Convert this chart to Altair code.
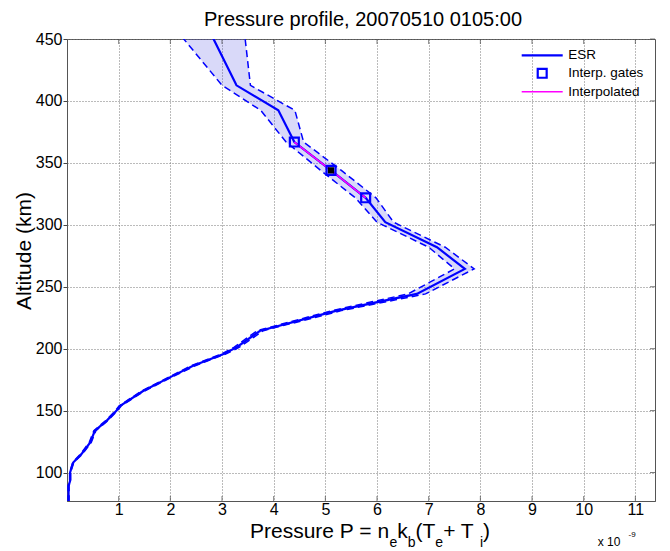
import altair as alt
import pandas as pd

# ---- data ----
altitude_km = [453.0, 412.6, 392.4, 366.8, 343.9, 321.8, 302.1, 281.9, 264.4, 244.2,
               230.7, 214.5, 201.0, 195.7, 186.2, 176.8, 166.0, 153.9, 150.0, 141.9,
               133.8, 124.3, 114.9, 108.1, 100.0, 93.3, 89.2, 76.0]
pressure_esr = [2.80, 3.28, 4.09, 4.40, 5.11, 5.78, 6.16, 7.16, 7.70, 6.77,
                5.22, 3.74, 3.28, 3.03, 2.44, 1.99, 1.48, 1.03, 0.96, 0.77,
                0.54, 0.45, 0.28, 0.12, 0.06, 0.06, 0.03, 0.03]
pressure_low = [2.20, 3.00, 3.75, 4.24, 4.91, 5.58, 6.00, 7.00, 7.50, 6.60,
                5.13, 3.68, 3.23, 2.99, 2.40, 1.96, 1.45, 1.01, 0.94, 0.75,
                0.52, 0.43, 0.26, 0.11, 0.05, 0.05, 0.02, 0.02]
pressure_high = [3.44, 3.55, 4.41, 4.58, 5.31, 5.98, 6.32, 7.32, 7.88, 6.94,
                 5.31, 3.80, 3.33, 3.07, 2.48, 2.02, 1.51, 1.05, 0.98, 0.79,
                 0.56, 0.47, 0.30, 0.13, 0.07, 0.07, 0.04, 0.04]
gate_alt = [366.8, 343.9, 321.8]
gate_p = [4.40, 5.11, 5.78]
current_gate_alt = [343.9]
current_gate_p = [5.11]
x_ticks = [1, 2, 3, 4, 5, 6, 7, 8, 9, 10, 11]
y_ticks = [100, 150, 200, 250, 300, 350, 400, 450]
legend_labels = ["ESR", "Interp. gates", "Interpolated"]
title_text = "Pressure profile, 20070510 0105:00"
ylabel_text = "Altitude (km)"

W, H = 588, 462
FONT = "Liberation Sans"
BLUE = "#0000ff"
MAGENTA = "#ff00ff"

prof = pd.DataFrame({"alt": altitude_km, "p": pressure_esr,
                     "lo": pressure_low, "hi": pressure_high})
gates = pd.DataFrame({"alt": gate_alt, "p": gate_p})
cur = pd.DataFrame({"alt": current_gate_alt, "p": current_gate_p})
one = pd.DataFrame({"a": [0]})

xscale = alt.Scale(domain=[0, 11.38], nice=False, zero=False)
yscale = alt.Scale(domain=[77, 450], nice=False, zero=False)
xaxis = alt.Axis(values=x_ticks, title=None, ticks=False, labelPadding=0,
                 labelFontSize=16, grid=True)
yaxis = alt.Axis(values=y_ticks, title=None, ticks=True, tickSize=4, labelPadding=1,
                 labelFontSize=16, grid=True)

def X(field):
    return alt.X(field, type="quantitative", scale=xscale, axis=xaxis)

def Y(field):
    return alt.Y(field, type="quantitative", scale=yscale, axis=yaxis)

band = alt.Chart(prof).mark_area(orient="horizontal", fill="#4040e0", fillOpacity=0.2,
                                 strokeWidth=0, clip=True).encode(
    y=Y("alt"), x=X("lo"), x2="hi")

dash_lo = alt.Chart(prof).mark_line(color=BLUE, strokeWidth=1.5, strokeDash=[7, 4],
                                    clip=True).encode(
    y=Y("alt"), x=X("lo"), order=alt.Order("alt:Q"))
dash_hi = alt.Chart(prof).mark_line(color=BLUE, strokeWidth=1.5, strokeDash=[7, 4],
                                    clip=True).encode(
    y=Y("alt"), x=X("hi"), order=alt.Order("alt:Q"))
esr = alt.Chart(prof).mark_line(color=BLUE, strokeWidth=2.2, clip=True).encode(
    y=Y("alt"), x=X("p"), order=alt.Order("alt:Q"))
interp = alt.Chart(gates).mark_line(color=MAGENTA, strokeWidth=1.6).encode(
    y=Y("alt"), x=X("p"), order=alt.Order("alt:Q"))
cur_pt = alt.Chart(cur).mark_point(shape="square", filled=True, color="black",
                                   size=40, opacity=1).encode(y=Y("alt"), x=X("p"))
gate_pts = alt.Chart(gates).mark_point(shape="square", filled=False, color=BLUE,
                                       strokeWidth=2.2, size=80, opacity=1).encode(
    y=Y("alt"), x=X("p"))

# inward tick marks (MATLAB style) on bottom, top and right
xt = pd.DataFrame({"p": x_ticks})
yt = pd.DataFrame({"alt": y_ticks})
tick_b = alt.Chart(xt).mark_tick(color="#444", thickness=1, size=5).encode(
    x=X("p"), y=alt.value(H - 2.5))
tick_t = alt.Chart(xt).mark_tick(color="#444", thickness=1, size=5).encode(
    x=X("p"), y=alt.value(2.5))
tick_r = alt.Chart(yt).mark_tick(color="#444", thickness=1, size=5).encode(
    y=Y("alt"), x=alt.value(W - 2.5))

def txt(s, x, y, size, align="left", baseline="alphabetic", angle=0):
    kw = dict(text=s, fontSize=size, font=FONT, color="black", align=align,
              baseline=baseline)
    if angle:
        kw["angle"] = angle
    return alt.Chart(one).mark_text(**kw).encode(x=alt.value(x), y=alt.value(y))

# legend (manual, no box)
lx0, lx1, ltx = 454.7, 495.7, 501.3
ly = [16.3, 34.3, 52.7]
leg = [
    alt.Chart(one).mark_rule(color=BLUE, strokeWidth=2.2).encode(
        x=alt.value(lx0), x2=alt.value(lx1), y=alt.value(ly[0])),
    alt.Chart(one).mark_point(shape="square", filled=False, color=BLUE,
                              strokeWidth=2.2, size=80, opacity=1).encode(
        x=alt.value((lx0 + lx1) / 2), y=alt.value(ly[1])),
    alt.Chart(one).mark_rule(color=MAGENTA, strokeWidth=1.6).encode(
        x=alt.value(lx0), x2=alt.value(lx1), y=alt.value(ly[2])),
]
for lab, yy in zip(legend_labels, ly):
    leg.append(txt(lab, ltx, yy, 13.5, baseline="middle"))

# titles
texts = [txt(title_text, 296, -13, 20, align="center"),
         txt(ylabel_text, -42, 212, 21, align="center", baseline="middle", angle=270)]

# x label with subscripts, laid out with Arial/Liberation advance widths
adv = {" ": 278, "P": 667, "r": 333, "e": 556, "s": 500, "u": 556, "=": 584,
       "n": 556, "k": 500, "b": 556, "(": 333, ")": 333, "T": 611, "+": 584, "i": 222}
pieces = [("Pressure P = n", False), ("e", True), ("k", False), ("b", True),
          ("(T", False), ("e", True), (" + T", False), ("i", True), (")", False)]
MAIN, SUB = 21, 14
def wid(s, fs):
    return sum(adv[c] for c in s) / 1000 * fs
total = sum(wid(s, SUB if sub else MAIN) for s, sub in pieces)
cx = 370 - 67
xpos = cx - total / 2
base = 499
for s, sub in pieces:
    fs = SUB if sub else MAIN
    texts.append(txt(s, xpos, base + (9 if sub else 0), fs))
    xpos += wid(s, fs)

texts.append(txt("x 10", 530.7, 507, 12))
texts.append(txt("-9", 561.5, 498, 8))

chart = alt.layer(band, dash_lo, dash_hi, esr, interp, cur_pt, gate_pts,
                  tick_b, tick_t, tick_r, *leg, *texts).properties(
    width=W, height=H,
    autosize=alt.AutoSizeParams(type="none"),
    padding={"left": 59, "top": 31, "right": 7, "bottom": 50},
).configure_axis(
    gridDash=[1, 2], gridColor="#777", gridOpacity=1, gridWidth=1,
    domainColor="#555", tickColor="#444", labelColor="black", labelFont=FONT,
).configure_view(stroke="#555", strokeWidth=1)

chart.save("out.html", embed_options={"renderer": "svg", "actions": False})
